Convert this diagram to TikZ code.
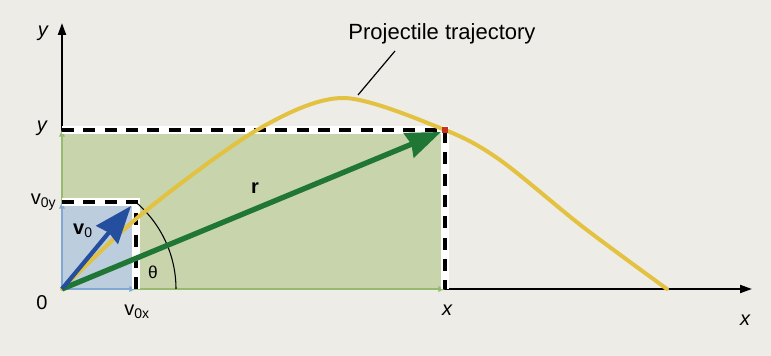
\documentclass[tikz,border=0pt]{standalone}
\usepackage{fontspec}
\setmainfont{Liberation Sans}
\usetikzlibrary{arrows.meta,positioning}
\definecolor{paper}{RGB}{238,236,230}
\definecolor{rectgreen}{RGB}{200,212,172}
\definecolor{sqblue}{RGB}{188,205,222}
\definecolor{trajyellow}{RGB}{226,194,64}
\definecolor{vblue}{RGB}{36,78,158}
\definecolor{rgreen}{RGB}{32,118,52}
\definecolor{compgreen}{RGB}{150,186,112}
\definecolor{compblue}{RGB}{128,168,210}
\definecolor{dotred}{RGB}{196,52,30}

\begin{document}
\begin{tikzpicture}[
  x=0.75pt, y=0.75pt,
  lab/.style={font=\fontsize{15}{17}\selectfont, inner sep=1pt},
  ax/.style={line width=1.5pt, -{Triangle[length=9pt, width=6pt]}},
  comp/.style={line width=1.8pt, -{Triangle[length=5pt, width=4pt]}},
  halo/.style={white, line width=5.5pt},
  guide/.style={black, line width=3.4pt, dash pattern=on 9pt off 7pt},
  traj/.style={trajyellow, line width=3pt, line cap=round},
  arr/.style={-{Stealth[length=#1, inset=2pt]}}
]
\fill[paper] (-62,-67) rectangle (709,289);
\useasboundingbox (-62,-67) rectangle (709,289);

\coordinate (O) at (0,0);
\coordinate (P) at (383,159);
\coordinate (V) at (74,87);
\coordinate (ytip) at (0,266);
\coordinate (xtip) at (690,0);

\fill[rectgreen] (O) rectangle (P);
\fill[sqblue] (O) rectangle (V);

\draw[ax] (O) -- (ytip);
\draw[ax] (O) -- (xtip);

\draw[comp, compgreen] (O) -- (O |- P);
\draw[comp, compgreen] (O) -- (O -| P);
\draw[comp, compblue] (O) -- (O |- V);
\draw[comp, compblue] (O) -- (O -| V);

\draw[halo] (O |- P) -- (P) -- (O -| P);
\draw[guide] (O |- P) -- (P) -- (O -| P);
\draw[halo] (O |- V) -- (V) -- (O -| V);
\draw[guide] (O |- V) -- (V) -- (O -| V);

\draw[line width=0.8pt] (114,0) arc[start angle=0, end angle=50, radius=114];

\draw[traj] plot[smooth, tension=0.5] coordinates
  {(0,0) (81,76) (195,159) (281,191) (383,159) (438,129) (521,62) (605,0)};

\draw[arr=26pt, rgreen, line width=4pt] (O) -- ([shift={(-4,-2)}]P);
\draw[arr=28pt, vblue, line width=3.2pt] (O) -- ([shift={(-5,-4)}]V);

\node[fill=dotred, minimum size=5pt, inner sep=0pt] (pt) at (P) {};

\coordinate (tag) at (333,238);
\coordinate (apex) at (296,194);
\draw[line width=0.9pt] (tag) -- (apex);

\node[lab, font=\fontsize{16.5}{19}\selectfont] (title) at (380,255) {Projectile trajectory};
\node[lab] (ylab) at (-19,256) {\itshape y};
\node[lab] (xlab) at (683,-31) {\itshape x};
\node[lab] (ytick) at (-20,161) {\itshape y};
\node[lab] (xtick) at (385,-21) {\itshape x};
\node[lab, anchor=east] (vylab) at (-4,87) {v\textsubscript{0y}};
\node[lab] (vxlab) at (75,-23) {v\textsubscript{0x}};
\node[lab] (olab) at (-20,-14) {0};
\node[lab] (vlab) at (21,58) {\textbf{v}\textsubscript{0}};
\node[lab] (rlab) at (193,101) {\textbf{r}};
\node[lab, font=\fontsize{13}{15}\selectfont] (thlab) at (91,17) {θ};
\end{tikzpicture}
\end{document}
